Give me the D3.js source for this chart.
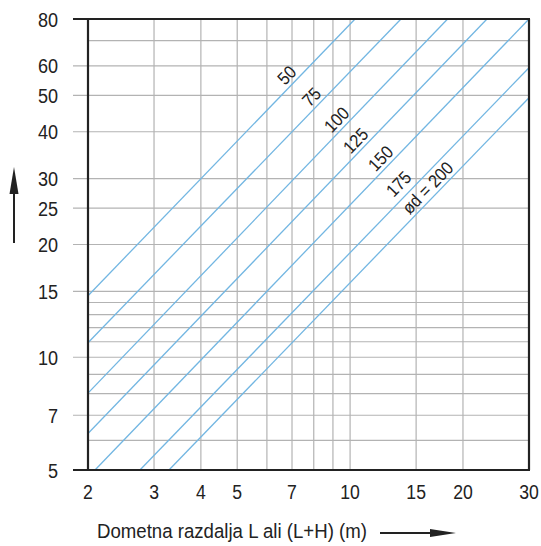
<!DOCTYPE html>
<html>
<head>
<meta charset="utf-8">
<script src="https://cdn.jsdelivr.net/npm/d3@7"></script>
<style>
  html, body { margin: 0; padding: 0; background: #fff; }
  svg { display: block; }
  text { font-family: "Liberation Sans", Arial, sans-serif; fill: #222; }
</style>
</head>
<body>
<svg id="chart" width="541" height="546"></svg>
<script>
// ---- data ----
const xTickValues = [2, 3, 4, 5, 7, 10, 15, 20, 30];
const xGridValues = [3, 4, 5, 6, 7, 8, 9, 10, 15, 20];
const yTickValues = [5, 7, 10, 15, 20, 25, 30, 40, 50, 60, 80];
const yMinorGrid = [6, 8, 9, 11, 12, 13, 14, 70];
const diameterLabels = ["50", "75", "100", "125", "150", "175", "ød = 200"];
const lineStartX = [2, 2, 2, 2, 2.088, 2.751, 3.288];
const lineStartY = [14.6, 10.93, 8.02, 6.26, 5, 5, 5];
const lineEndX = [10.31, 13.67, 18.2, 23.18, 30, 30, 30];
const lineEndY = [80, 80, 80, 80, 80, 59.3, 49.3];
const labelAtX = [6.79, 7.91, 9.23, 10.37, 12.09, 13.5, 16.13];
const xTitle = "Dometna razdalja L ali (L+H) (m)";

(function () {
// ---- layout ----
const mLeft = 88, mRight = 529, mTop = 19, mBottom = 470;
const svg = d3.select("#chart");
const x = d3.scaleLog().domain([2, 30]).range([mLeft, mRight]);
const y = d3.scaleLog().domain([5, 80]).range([mBottom, mTop]);

const gridColor = "#b3b3b3";
const axisColor = "#222";
const blue = "#72b6e2";
const narrow = 0.86;

// vertical grid
svg.append("g").selectAll("line").data(xGridValues).join("line")
  .attr("x1", d => x(d)).attr("x2", d => x(d))
  .attr("y1", mTop).attr("y2", mBottom)
  .attr("stroke", gridColor).attr("stroke-width", 1.2);

// horizontal minor grid (inside only)
svg.append("g").selectAll("line").data(yMinorGrid).join("line")
  .attr("x1", mLeft).attr("x2", mRight)
  .attr("y1", d => y(d)).attr("y2", d => y(d))
  .attr("stroke", gridColor).attr("stroke-width", 1.2);

// labelled horizontal grid (extends left as tick)
svg.append("g").selectAll("line").data(yTickValues.filter(d => d !== 5 && d !== 80)).join("line")
  .attr("x1", 73).attr("x2", mRight)
  .attr("y1", d => y(d)).attr("y2", d => y(d))
  .attr("stroke", gridColor).attr("stroke-width", 1.2);

// diameter lines
const lines = diameterLabels.map((lab, i) => ({
  lab, x1: lineStartX[i], y1: lineStartY[i], x2: lineEndX[i], y2: lineEndY[i], lx: labelAtX[i]
}));
svg.append("g").selectAll("line").data(lines).join("line")
  .attr("x1", d => x(d.x1)).attr("y1", d => y(d.y1))
  .attr("x2", d => x(d.x2)).attr("y2", d => y(d.y2))
  .attr("stroke", blue).attr("stroke-width", 1.3);

// frame
const frame = svg.append("g").attr("stroke", axisColor).attr("stroke-width", 2.2);
frame.append("line").attr("x1", 73).attr("x2", mRight + 1).attr("y1", mTop).attr("y2", mTop);
frame.append("line").attr("x1", 73).attr("x2", mRight + 1).attr("y1", mBottom).attr("y2", mBottom);
frame.append("line").attr("x1", mLeft).attr("x2", mLeft).attr("y1", mTop).attr("y2", mBottom);
frame.append("line").attr("x1", mRight).attr("x2", mRight).attr("y1", mTop).attr("y2", mBottom);

// y labels
svg.append("g").selectAll("text").data(yTickValues).join("text")
  .attr("transform", d => `translate(58,${y(d)}) scale(${narrow},1)`)
  .attr("text-anchor", "end").attr("dominant-baseline", "central")
  .attr("font-size", 21)
  .text(d => d);

// x labels
svg.append("g").selectAll("text").data(xTickValues).join("text")
  .attr("transform", d => `translate(${x(d)},499) scale(${narrow},1)`)
  .attr("text-anchor", "middle")
  .attr("font-size", 20.5)
  .text(d => d);

// line labels
svg.append("g").selectAll("text").data(lines).join("text")
  .attr("transform", d => {
    const px1 = x(d.x1), py1 = y(d.y1), px2 = x(d.x2), py2 = y(d.y2);
    const px = x(d.lx);
    const py = py1 + (px - px1) * (py2 - py1) / (px2 - px1);
    const ang = Math.atan2(py2 - py1, px2 - px1) * 180 / Math.PI;
    const gap = d.lab === "175" ? 18 : 14;
    return `translate(${px},${py - gap}) rotate(${ang}) scale(0.9,1)`;
  })
  .attr("text-anchor", "middle").attr("dominant-baseline", "central")
  .attr("font-size", 18)
  .text(d => d.lab);

// x title
svg.append("text").attr("x", 97).attr("y", 538)
  .attr("font-size", 20.5)
  .attr("textLength", 270).attr("lengthAdjust", "spacingAndGlyphs")
  .text(xTitle);

// arrows
svg.append("line").attr("x1", 380).attr("x2", 432).attr("y1", 533).attr("y2", 533)
  .attr("stroke", axisColor).attr("stroke-width", 2);
svg.append("path").attr("d", "M456,533 L430,529 L430,537 Z").attr("fill", axisColor);
svg.append("line").attr("x1", 14).attr("x2", 14).attr("y1", 243).attr("y2", 190)
  .attr("stroke", axisColor).attr("stroke-width", 2);
svg.append("path").attr("d", "M14,167 L9.5,194 L18.5,194 Z").attr("fill", axisColor);
})();
</script>
</body>
</html>
